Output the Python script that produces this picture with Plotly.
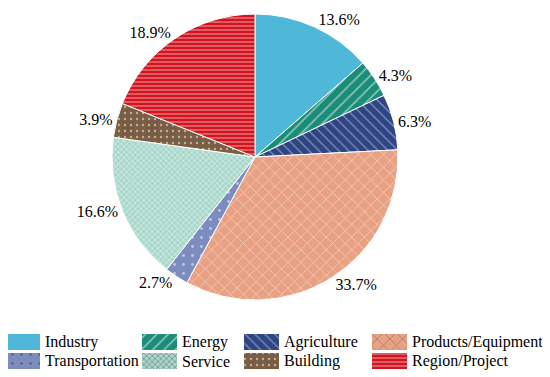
import plotly.graph_objects as go

categories = ["Industry", "Energy", "Agriculture", "Products/Equipment",
              "Transportation", "Service", "Building", "Region/Project"]
shares = [13.6, 4.3, 6.3, 33.7, 2.7, 16.6, 3.9, 18.9]
colors = ["#4FB7D8", "#1A8C78", "#2E4584", "#E9A184",
          "#7D8CBF", "#A9D8CB", "#7A5E44", "#D2141E"]
patterns = ["", "/", "\\", "x", ".", "x", ".", "-"]
pattern_sizes = [8, 8, 7, 9, 9, 4, 6, 4]
pattern_solid = [0.3, 0.2, 0.15, 0.15, 0.08, 0.35, 0.12, 0.3]

# legend layout (column, row) for each category, in page pixels
legend_cols_x = [5, 142, 244, 372]
legend_rows_y = [342, 361]

FONT = "Liberation Serif"
PAGE_W, PAGE_H = 550, 377
OFF = 8  # default body margin of the page
W, H = PAGE_W - OFF, PAGE_H - OFF

cx, cy, r = 255, 157, 143  # pie centre/radius in page pixels

fig = go.Figure()

fig.add_trace(go.Pie(
    labels=categories, values=shares, sort=False, direction="clockwise",
    rotation=0,
    marker=dict(colors=colors, line=dict(color="white", width=1),
                pattern=dict(shape=patterns, fgcolor="white", bgcolor=colors,
                             size=pattern_sizes, solidity=pattern_solid,
                             fillmode="overlay")),
    texttemplate="%{value:.1f}%", textposition="outside",
    textfont=dict(family=FONT, size=16, color="black"),
    outsidetextfont=dict(family=FONT, size=16, color="black"),
    domain=dict(x=[(cx - r - OFF) / W, (cx + r - OFF) / W],
                y=[1 - (cy + r - OFF) / H, 1 - (cy - r - OFF) / H]),
    showlegend=False, automargin=False,
))

# custom legend swatches (one bar trace on a page-pixel overlay axis)
sw_x = [legend_cols_x[i % 4] for i in range(len(categories))]
sw_y = [legend_rows_y[i // 4] for i in range(len(categories))]
fig.add_trace(go.Bar(
    x=[35] * len(categories), base=sw_x, y=sw_y, orientation="h",
    width=[16] * len(categories),
    xaxis="x2", yaxis="y2", showlegend=False, hoverinfo="skip",
    marker=dict(color=colors, line=dict(width=0),
                pattern=dict(shape=patterns, fgcolor="white",
                             bgcolor=colors, size=pattern_sizes,
                             solidity=pattern_solid, fillmode="overlay")),
))
for cat, x0, y0 in zip(categories, sw_x, sw_y):
    fig.add_annotation(x=x0 + 38, y=y0, xref="x2", yref="y2", text=cat,
                       showarrow=False, xanchor="left", yanchor="middle",
                       font=dict(family=FONT, size=16, color="black"))

fig.update_layout(
    width=W, height=H, margin=dict(l=0, r=0, t=0, b=0),
    paper_bgcolor="white", plot_bgcolor="rgba(0,0,0,0)",
    font=dict(family=FONT),
    xaxis2=dict(domain=[0, 1], range=[OFF, PAGE_W], visible=False, fixedrange=True),
    yaxis2=dict(domain=[0, 1], range=[PAGE_H, OFF], visible=False, fixedrange=True),
    xaxis=dict(visible=False), yaxis=dict(visible=False),
    barmode="overlay", bargap=0,
)

fig.write_html("out.html")
